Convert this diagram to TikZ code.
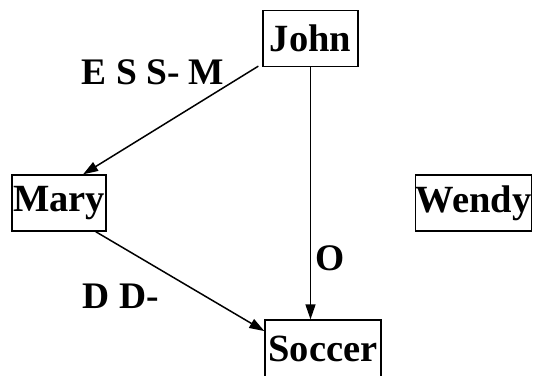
\documentclass[tikz,border=0pt]{standalone}
\usepackage{fontspec}
\setmainfont{Liberation Serif}
\usetikzlibrary{arrows.meta,calc}
\begin{document}
\begin{tikzpicture}[x=1pt,y=1pt,
  person/.style={draw,line width=1.3pt,inner sep=0pt,minimum height=56pt,
    font=\fontsize{38.5}{42}\selectfont\bfseries},
  rel/.style={line width=1.5pt,-{Triangle[length=15pt,width=10pt]}},
  tag/.style={inner sep=0pt,font=\fontsize{37.5}{42}\selectfont\bfseries}]
\useasboundingbox (0,0) rectangle (535,375);
\node[person,minimum width=95pt] (john) at (310.5,336.5) {John};
\node[person,minimum width=94pt] (mary) at (59,172) {Mary};
\node[person,minimum width=115pt] (wendy) at (473.5,172) {Wendy};
\node[person,minimum width=116pt,minimum height=58pt] (soccer) at (323,26) {Soccer};
\draw[rel] ([xshift=-4pt,yshift=1pt]john.south west) -- (mary.50);
\draw[rel] (john.south) -- (john.south |- soccer.north);
\draw[rel] (mary.-38) -- (soccer.163);
\node[tag] (essm) at (153,303) {E S S- M};
\node[tag] (dd) at (121,79) {D D-};
\node[tag] (o) at (330,117) {O};
\end{tikzpicture}
\end{document}
